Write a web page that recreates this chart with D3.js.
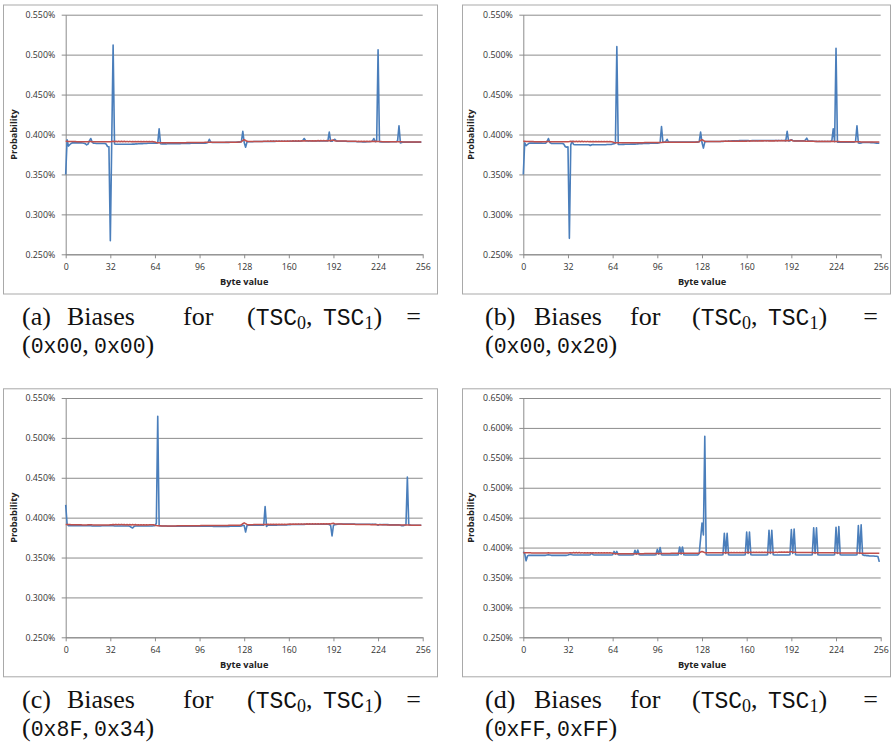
<!DOCTYPE html>
<html><head><meta charset="utf-8">
<script src="https://cdn.jsdelivr.net/npm/d3@7"></script>
<style>body{margin:0;background:#fff}svg{display:block}</style>
</head><body>
<svg id="chart" width="892" height="743"></svg>
<script>
// All probabilities in units of 0.0001 %  (3906 = 0.3906 %)
const byteTicks = [0, 32, 64, 96, 128, 160, 192, 224, 256];
const probTicks = [2500, 3000, 3500, 4000, 4500, 5000, 5500];
const probTicksD = [2500, 3000, 3500, 4000, 4500, 5000, 5500, 6000, 6500];
const captionLabels = ["(a)", "(b)", "(c)", "(d)"];
const captionTsc = [["0x00", "0x00"], ["0x00", "0x20"], ["0x8F", "0x34"], ["0xFF", "0xFF"]];

// red series (shared reference distribution)
const redSeries = [
3915,3914,3913,3913,3912,3912,3911,3911,3910,3910,3910,3910,3909,3909,3909,3909,
3910,3911,3912,3910,3909,3909,3908,3908,3908,3908,3908,3908,3908,3908,3908,3908,
3910,3912,3915,3910,3916,3910,3916,3910,3916,3910,3915,3909,3914,3909,3914,3909,
3913,3909,3913,3909,3912,3909,3912,3909,3912,3909,3912,3909,3912,3910,3912,3910,
3905,3900,3898,3897,3897,3896,3896,3896,3896,3896,3896,3896,3896,3896,3896,3896,
3897,3897,3897,3897,3898,3898,3898,3899,3899,3899,3899,3900,3900,3900,3900,3900,
3900,3901,3901,3901,3902,3902,3902,3902,3902,3902,3903,3903,3903,3903,3903,3903,
3903,3903,3903,3903,3903,3904,3904,3904,3904,3904,3904,3904,3905,3905,3910,3925,
3935,3925,3915,3912,3912,3912,3912,3913,3913,3913,3913,3913,3913,3913,3914,3914,
3914,3918,3914,3918,3914,3918,3914,3918,3914,3918,3914,3918,3914,3918,3914,3918,
3916,3920,3916,3921,3917,3921,3917,3922,3917,3922,3918,3922,3918,3923,3918,3923,
3919,3923,3919,3923,3919,3924,3919,3924,3920,3924,3920,3924,3920,3924,3921,3928,
3930,3922,3920,3920,3919,3919,3919,3918,3918,3918,3917,3917,3917,3916,3916,3916,
3915,3913,3915,3913,3915,3913,3915,3913,3915,3913,3914,3912,3914,3912,3914,3912,
3912,3911,3911,3910,3910,3910,3910,3909,3909,3909,3909,3908,3908,3908,3908,3908,
3908,3908,3907,3907,3907,3907,3907,3907,3906,3906,3906,3906,3906,3906,3906,3906];

const blueA = [
3500,3935,3855,3875,3890,3895,3895,3895,3895,3895,3895,3895,3893,3890,3885,3870,
3880,3920,3950,3905,3890,3890,3888,3888,3888,3888,3888,3888,3888,3880,3850,3845,
2670,3900,5120,3880,3877,3877,3877,3877,3877,3877,3878,3878,3878,3878,3878,3878,
3880,3880,3882,3882,3884,3884,3886,3886,3888,3888,3888,3890,3890,3890,3890,3892,
3892,3890,3895,4070,3885,3882,3882,3882,3882,3884,3884,3884,3884,3884,3884,3885,
3885,3886,3886,3887,3887,3888,3888,3888,3889,3889,3890,3890,3890,3890,3891,3891,
3891,3891,3892,3892,3892,3895,3900,3940,3905,3900,3900,3900,3900,3900,3900,3900,
3900,3900,3900,3902,3902,3902,3903,3903,3903,3903,3903,3905,3905,3905,3910,4040,
3900,3840,3905,3910,3910,3910,3910,3912,3912,3912,3912,3912,3912,3912,3913,3913,
3913,3913,3913,3914,3914,3914,3914,3915,3915,3915,3915,3915,3915,3915,3915,3915,
3915,3915,3915,3916,3916,3916,3916,3916,3916,3918,3925,3950,3925,3918,3918,3918,
3918,3918,3918,3918,3918,3918,3918,3918,3918,3918,3918,3918,3920,4030,3915,3915,
3930,3940,3920,3915,3915,3915,3915,3915,3915,3915,3913,3913,3913,3913,3912,3912,
3912,3910,3910,3910,3910,3908,3908,3908,3910,3910,3910,3912,3920,3950,3910,3915,
5060,3910,3908,3908,3908,3908,3908,3908,3908,3910,3910,3910,3910,3910,3920,4110,
3895,3900,3905,3905,3905,3905,3905,3905,3905,3905,3905,3905,3905,3905,3905,3905];

const blueB = [
3500,3895,3860,3875,3890,3892,3892,3892,3892,3892,3892,3892,3892,3892,3890,3890,
3890,3910,3950,3900,3888,3888,3888,3888,3888,3888,3888,3888,3888,3880,3850,3840,
3845,2700,3870,3915,3875,3872,3872,3872,3872,3872,3872,3872,3872,3872,3872,3872,
3862,3872,3875,3872,3872,3872,3872,3872,3872,3872,3872,3872,3875,3875,3875,3875,
3880,3885,3890,5100,3875,3875,3875,3876,3876,3877,3877,3878,3878,3879,3879,3880,
3880,3882,3883,3884,3885,3886,3887,3888,3888,3889,3889,3890,3890,3890,3890,3892,
3892,3895,3900,4100,3900,3905,3910,3940,3905,3905,3905,3905,3905,3905,3905,3905,
3905,3905,3905,3905,3905,3905,3905,3905,3905,3905,3905,3905,3905,3905,3910,4030,
3900,3830,3905,3912,3912,3912,3912,3912,3912,3912,3912,3912,3912,3912,3912,3912,
3915,3915,3915,3918,3918,3918,3920,3920,3920,3922,3922,3925,3925,3925,3925,3925,
3925,3925,3922,3922,3925,3925,3925,3925,3925,3925,3925,3925,3925,3925,3925,3925,
3925,3925,3925,3925,3925,3925,3925,3925,3925,3925,3925,3925,3920,4040,3920,3920,
3935,3925,3920,3920,3920,3920,3920,3920,3920,3920,3930,3955,3920,3918,3918,3918,
3915,3915,3912,3912,3912,3912,3912,3912,3912,3912,3912,3912,3912,3920,4070,3910,
5080,3905,3905,3905,3905,3905,3905,3905,3905,3905,3905,3905,3905,3905,3915,4110,
3895,3890,3895,3900,3900,3900,3900,3900,3900,3898,3898,3896,3894,3892,3890,3890];

const blueC = [
4160,3920,3900,3900,3900,3900,3900,3900,3898,3898,3898,3898,3898,3898,3898,3898,
3898,3898,3898,3896,3896,3896,3896,3896,3896,3896,3898,3898,3898,3898,3898,3898,
3898,3900,3898,3896,3896,3896,3896,3896,3896,3896,3896,3896,3896,3896,3892,3880,
3870,3890,3895,3895,3895,3895,3895,3895,3895,3895,3895,3895,3895,3895,3895,3898,
3900,3930,5270,3900,3895,3895,3895,3895,3895,3893,3893,3893,3893,3893,3893,3893,
3893,3893,3893,3893,3893,3893,3893,3893,3893,3893,3893,3893,3893,3893,3893,3893,
3893,3893,3893,3893,3893,3892,3892,3892,3892,3892,3890,3890,3890,3890,3890,3890,
3890,3890,3890,3890,3890,3890,3892,3892,3892,3892,3892,3892,3893,3893,3895,3905,
3900,3820,3900,3905,3905,3905,3905,3905,3905,3905,3905,3905,3905,3905,3905,4140,
3890,3905,3905,3905,3905,3905,3905,3905,3908,3908,3908,3908,3908,3908,3910,3910,
3912,3912,3915,3915,3915,3915,3915,3915,3915,3915,3915,3915,3918,3918,3918,3918,
3918,3918,3918,3918,3918,3918,3918,3918,3918,3918,3918,3918,3918,3915,3900,3770,
3905,3912,3915,3918,3920,3920,3920,3920,3920,3920,3920,3920,3920,3920,3920,3920,
3918,3918,3918,3918,3918,3918,3918,3918,3918,3918,3918,3918,3918,3918,3918,3915,
3905,3915,3915,3912,3912,3912,3912,3912,3910,3910,3910,3910,3910,3910,3910,3910,
3905,3900,3900,3905,3910,4510,3910,3905,3905,3905,3905,3905,3905,3905,3905,3905];

const blueD = [
3930,3900,3780,3860,3870,3870,3870,3870,3870,3870,3870,3870,3870,3870,3870,3870,
3870,3875,3880,3875,3870,3870,3870,3870,3870,3870,3870,3870,3870,3870,3870,3870,
3875,3885,3890,3880,3875,3875,3875,3875,3875,3875,3875,3875,3875,3875,3875,3875,
3880,3905,3880,3875,3875,3875,3875,3875,3875,3875,3875,3875,3875,3875,3875,3875,
3880,3935,3890,3935,3880,3875,3875,3875,3875,3875,3875,3875,3875,3875,3875,3880,
3955,3890,3960,3880,3875,3875,3875,3875,3875,3875,3875,3875,3875,3875,3875,3880,
3970,3890,4000,3880,3875,3875,3875,3875,3875,3875,3875,3875,3875,3875,3875,3880,
4010,3890,4010,3880,3875,3875,3875,3875,3875,3875,3875,3875,3875,3875,3900,4150,
4410,4210,5860,3880,3875,3875,3875,3875,3875,3875,3875,3875,3875,3875,3875,3880,
4240,3900,4240,3880,3875,3875,3875,3875,3875,3875,3875,3875,3875,3875,3875,3880,
4260,3900,4260,3880,3875,3875,3875,3875,3875,3875,3875,3875,3875,3875,3875,3880,
4290,3900,4290,3880,3875,3875,3875,3875,3875,3875,3875,3875,3875,3875,3875,3880,
4300,3900,4310,3880,3875,3875,3875,3875,3875,3875,3875,3875,3875,3875,3875,3880,
4330,3900,4330,3880,3875,3875,3875,3875,3875,3875,3875,3875,3875,3875,3875,3880,
4340,3900,4350,3880,3875,3875,3875,3875,3875,3875,3875,3875,3875,3875,3875,3880,
4370,3900,4380,3880,3870,3870,3865,3865,3860,3860,3860,3860,3855,3855,3850,3760];

const blueSeries = [blueA, blueB, blueC, blueD];

// layout
const layout = [
  {box: [3, 4.5, 434, 289], plot: [65.7, 422.7, 14.7, 254.3], ticks: probTicks,
   cap: {words: [22, 67, 183, 247], eqEnd: 421, y: 325}},
  {box: [462, 4.5, 428, 289], plot: [523.3, 880.7, 14.7, 254.3], ticks: probTicks,
   cap: {words: [485, 534, 630, 692], eqEnd: 878, y: 325}},
  {box: [3, 388.3, 434, 288], plot: [65.7, 422.7, 398, 637.3], ticks: probTicks,
   cap: {words: [22, 67, 183, 247], eqEnd: 421, y: 708}},
  {box: [462, 388.3, 428, 288], plot: [523.3, 880.7, 398, 637.3], ticks: probTicksD,
   cap: {words: [485, 534, 630, 692], eqEnd: 878, y: 708}}
];

const svg = d3.select("#chart");
const sansFont = "'Open Sans', 'Liberation Sans', sans-serif";
const serifFont = "'Liberation Serif', 'DejaVu Serif', serif";
const monoFont = "'Liberation Mono', 'DejaVu Sans Mono', monospace";
const gridColor = "#8c8c8c";

layout.forEach((L, k) => {
  const g = svg.append("g");
  const [bx, by, bw, bh] = L.box;
  g.append("rect").attr("x", bx + 0.5).attr("y", by + 0.5).attr("width", bw).attr("height", bh)
    .attr("fill", "#fff").attr("stroke", "#a9a9a9").attr("stroke-width", 1);

  const [x0, x1, yT, yB] = L.plot;
  const x = d3.scaleLinear().domain([0, 256]).range([x0, x1]);
  const y = d3.scaleLinear().domain([L.ticks[0], L.ticks[L.ticks.length - 1]]).range([yB, yT]);

  // y axis with gridlines
  const yAxis = d3.axisLeft(y).tickValues(L.ticks).tickSize(-(x1 - x0)).tickSizeOuter(0)
    .tickPadding(10.5).tickFormat(v => (v / 10000).toFixed(3) + "%");
  const ya = g.append("g").attr("transform", `translate(${x0},0)`).call(yAxis);
  ya.select(".domain").attr("stroke", gridColor);
  ya.selectAll(".tick line").attr("x1", -4).attr("stroke", gridColor).attr("stroke-width", 1);
  ya.selectAll(".tick text").attr("font-family", sansFont).attr("font-size", 8.8).attr("fill", "#333");

  // x axis
  const xAxis = d3.axisBottom(x).tickValues(byteTicks).tickSize(4).tickSizeOuter(0).tickPadding(5.6)
    .tickFormat(d3.format("d"));
  const xa = g.append("g").attr("transform", `translate(0,${yB})`).call(xAxis);
  xa.select(".domain").attr("stroke", gridColor);
  xa.selectAll(".tick line").attr("stroke", gridColor);
  xa.selectAll(".tick text").attr("font-family", sansFont).attr("font-size", 8.8).attr("fill", "#333");

  // titles
  g.append("text").attr("x", (x0 + x1) / 2).attr("y", yB + 31).attr("text-anchor", "middle")
    .attr("font-family", sansFont).attr("font-size", 9.2).attr("font-weight", "bold").attr("fill", "#222")
    .text("Byte value");
  g.append("text").attr("transform", `translate(${x0 - 52.5},${(yT + yB) / 2}) rotate(-90)`)
    .attr("text-anchor", "middle").attr("dominant-baseline", "central")
    .attr("font-family", sansFont).attr("font-size", 9.2).attr("font-weight", "bold").attr("fill", "#222")
    .text("Probability");

  const line = d3.line().x((d, i) => x(i)).y(d => y(d));
  g.append("path").datum(blueSeries[k]).attr("d", line).attr("fill", "none")
    .attr("stroke", "#4a7ebb").attr("stroke-width", 1.6).attr("stroke-linejoin", "round");
  g.append("path").datum(redSeries).attr("d", line).attr("fill", "none")
    .attr("stroke", "#c0504d").attr("stroke-width", 1.5).attr("stroke-linejoin", "round");

  // caption
  const C = L.cap;
  const cg = g.append("g").attr("font-family", serifFont).attr("font-size", 26).attr("fill", "#111");
  cg.append("text").attr("x", C.words[0]).attr("y", C.y).text(captionLabels[k]);
  cg.append("text").attr("x", C.words[1]).attr("y", C.y).text("Biases");
  cg.append("text").attr("x", C.words[2]).attr("y", C.y).text("for");
  const t = cg.append("text").attr("x", C.words[3]).attr("y", C.y);
  t.append("tspan").text("(");
  t.append("tspan").attr("font-family", monoFont).attr("font-size", 23).text("TSC");
  t.append("tspan").attr("font-size", 18).attr("dy", 4).text("0");
  t.append("tspan").attr("dy", -4).text(",\u2009\u2009");
  t.append("tspan").attr("font-family", monoFont).attr("font-size", 23).text("TSC");
  t.append("tspan").attr("font-size", 18).attr("dy", 4).text("1");
  t.append("tspan").attr("dy", -4).text(")");
  cg.append("text").attr("x", C.eqEnd).attr("y", C.y).attr("text-anchor", "end").text("=");
  const t2 = cg.append("text").attr("x", C.words[0]).attr("y", C.y + 28);
  t2.append("tspan").text("(");
  t2.append("tspan").attr("font-family", monoFont).attr("font-size", 21.5).text(captionTsc[k][0]);
  t2.append("tspan").text(",\u2009");
  t2.append("tspan").attr("font-family", monoFont).attr("font-size", 21.5).text(captionTsc[k][1]);
  t2.append("tspan").text(")");
});
</script>
</body></html>
